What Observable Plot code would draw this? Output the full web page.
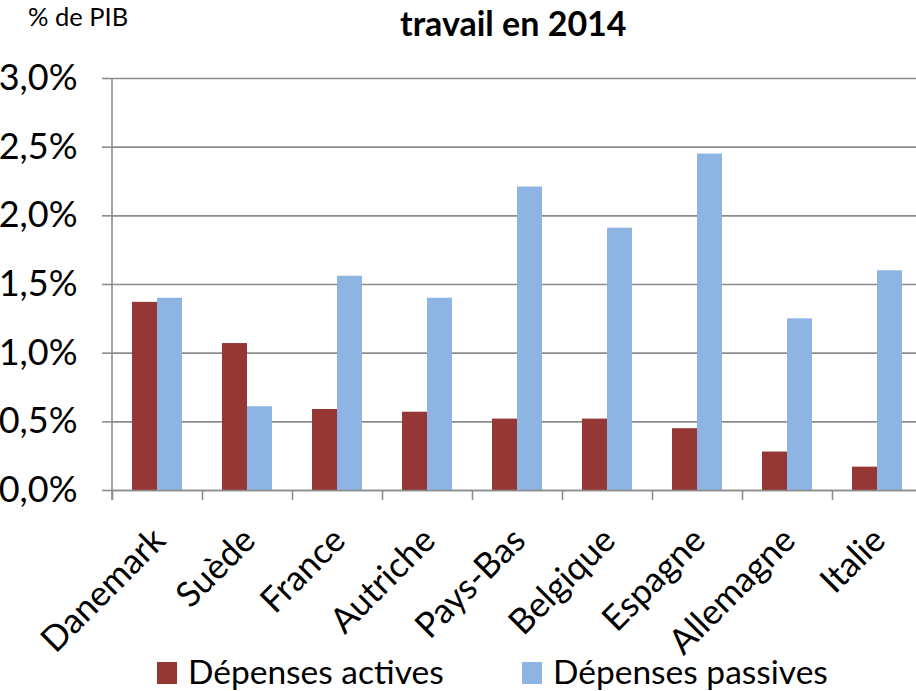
<!DOCTYPE html>
<html>
<head>
<meta charset="utf-8">
<script src="https://cdn.jsdelivr.net/npm/d3@7"></script>
<script src="https://cdn.jsdelivr.net/npm/@observablehq/plot@0.6"></script>
<style>
  html, body { margin: 0; padding: 0; background: white; }
  body { width: 916px; height: 691px; overflow: hidden; font-family: Lato, "Open Sans", sans-serif; color: #000; }
  #header { position: relative; height: 48px; }
  #unit { position: absolute; left: 28px; top: 4px; font-size: 25.5px; line-height: 1; white-space: nowrap; }
  #title { position: absolute; left: 400px; top: 6px; font-size: 34px; font-weight: bold; line-height: 1; white-space: nowrap; }
  #chart svg { overflow: visible; display: block; }
  #legend { position: relative; height: 41px; }
  .sw { position: absolute; width: 20px; height: 22px; top: 12px; }
  .lt { position: absolute; top: 4px; font-size: 33.5px; line-height: 1.05; white-space: nowrap; }
</style>
</head>
<body>
<div id="header"><div id="unit">% de PIB</div><div id="title">travail en 2014</div></div>
<div id="chart"></div>
<div id="legend"></div>
<script>
const countries = ["Danemark", "Suède", "France", "Autriche", "Pays-Bas", "Belgique", "Espagne", "Allemagne", "Italie"];
const seriesNames = ["Dépenses actives", "Dépenses passives"];
const activeValues = [1.37, 1.07, 0.59, 0.57, 0.52, 0.52, 0.45, 0.28, 0.17];
const passiveValues = [1.40, 0.61, 1.56, 1.40, 2.21, 1.91, 2.45, 1.25, 1.60];
const yTicks = [0, 0.5, 1.0, 1.5, 2.0, 2.5, 3.0];
const colors = ["#953735", "#8EB4E3"];

const data = [];
countries.forEach((c, i) => {
  data.push({country: c, series: seriesNames[0], value: activeValues[i]});
  data.push({country: c, series: seriesNames[1], value: passiveValues[i]});
});

const width = 916, marginLeft = 112, marginRight = -6;
const step = (width - marginLeft - marginRight) / countries.length;
const fmt = d => d.toFixed(1).replace(".", ",") + "%";
const grid = "#8c8c8c";

const chart = Plot.plot({
  width,
  height: 602,
  marginLeft,
  marginRight,
  marginTop: 30,
  marginBottom: 160,
  style: {fontFamily: "Lato, 'Open Sans', sans-serif", fontSize: "36px", color: "#000", background: "white"},
  fx: {domain: countries, padding: 0, label: null},
  x: {domain: seriesNames, paddingInner: 0, paddingOuter: 0.75, axis: null},
  y: {domain: [0, 3], label: null},
  color: {domain: seriesNames, range: colors},
  marks: [
    Plot.gridY(yTicks, {stroke: grid, strokeOpacity: 1, strokeWidth: 1.6}),
    Plot.barY(data, {fx: "country", x: "series", y: "value", fill: "series"}),
    Plot.ruleY([0], {stroke: grid, strokeWidth: 1.6}),
    Plot.axisY(yTicks, {tickSize: 10, tickPadding: 25, tickFormat: fmt, stroke: grid, strokeWidth: 1.6, fontSize: 36, label: null}),
    Plot.axisFx({anchor: "bottom", tickSize: 10, text: null, stroke: grid, strokeWidth: 1.6, dx: -step / 2, label: null}),
    Plot.axisFx({anchor: "bottom", tickSize: 0, tickPadding: 44, tickRotate: -45, dx: 2, fontSize: 35, label: null})
  ]
});
document.getElementById("chart").appendChild(chart);

// vertical y-axis line along the left edge of the frame, from the y scale's range
const ys = chart.scale("y");
d3.select(chart).append("line")
  .attr("x1", marginLeft).attr("x2", marginLeft)
  .attr("y1", Math.min(...ys.range)).attr("y2", Math.max(...ys.range) + 10)
  .attr("stroke", grid).attr("stroke-width", 1.6);

const legend = document.getElementById("legend");
const legendX = [[157, 188], [522, 553]];
seriesNames.forEach((s, i) => {
  const sw = document.createElement("div");
  sw.className = "sw"; sw.style.left = legendX[i][0] + "px"; sw.style.background = colors[i];
  const t = document.createElement("div");
  t.className = "lt"; t.style.left = legendX[i][1] + "px"; t.textContent = s;
  legend.appendChild(sw); legend.appendChild(t);
});
</script>
</body>
</html>
